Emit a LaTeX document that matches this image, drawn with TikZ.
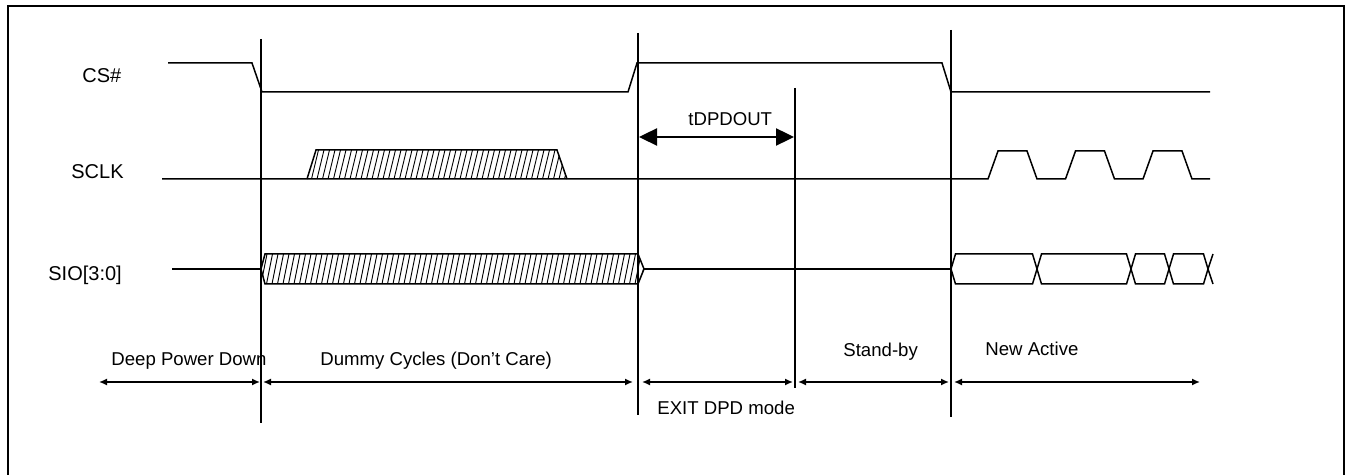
\documentclass[tikz,border=0pt]{standalone}
\usepackage{fontspec}
\setmainfont{Liberation Sans}
\usetikzlibrary{arrows.meta}

\tikzset{
  sig/.style={line width=0.75pt},
  marker/.style={line width=0.75pt},
  hatch/.style={line width=0.45pt},
  siglabel/.style={anchor=base west,inner sep=0pt,font=\fontsize{10}{12}\selectfont},
  phaselabel/.style={anchor=base west,inner sep=0pt,font=\fontsize{9.3}{11}\selectfont},
  span/.style={line width=0.75pt,{Latex[length=4pt,width=3.5pt]}-{Latex[length=4pt,width=3.5pt]}},
  tspan/.style={line width=1.2pt,{Triangle[length=9pt,width=8.5pt]}-{Triangle[length=9pt,width=8.5pt]}},
}

\begin{document}
\begin{tikzpicture}[x=0.5pt,y=-0.5pt]
  \useasboundingbox (0,0) rectangle (1350,475);
  % Frame
  \draw[line width=1pt] (8,480) -- (8,6) -- (1344,6) -- (1344,480);

  % Signal names
  \node[siglabel] (cs) at (82,83) {CS\#};
  \node[siglabel] (sclk) at (71,179) {SCLK};
  \node[siglabel] (sio) at (48,281) {SIO[3:0]};

  % Timing markers
  \draw[marker] (261,39) -- (261,423);
  \draw[marker] (638,33) -- (638,415);
  \draw[marker] (795,88) -- (795,388);
  \draw[marker] (951,30) -- (951,417);

  % CS#
  \draw[sig] (168,63) -- (252,63) -- (262,92) -- (628,92) -- (637,63)
    -- (942,63) -- (951,92) -- (1210,92);

  % SCLK
  \begin{scope}
    \clip (307,179) -- (316,150) -- (557,150) -- (567,179) -- cycle;
    \foreach \x in {295,300.5,...,572} \draw[hatch] (\x,179) -- (\x+7,150);
  \end{scope}
  \draw[sig] (307,179) -- (316,150) -- (557,150) -- (567,179);
  \draw[sig] (162,179)
    \foreach \p in {988,1065.5,1143} {
      -- (\p,179) -- (\p+10,151) -- (\p+39,151) -- (\p+49,179)}
    -- (1210,179);

  % SIO[3:0]
  \draw[sig] (172,269) -- (261,269);
  \begin{scope}
    \clip (261,269) -- (265,254) -- (638,254) -- (644,269) -- (638,284) -- (265,284) -- cycle;
    \foreach \x in {250,255.5,...,650} \draw[hatch] (\x,284) -- (\x+6,254);
  \end{scope}
  \draw[sig] (261,269) -- (265,254) -- (638,254) -- (644,269) -- (638,284) -- (265,284) -- cycle;
  \draw[sig] (644,269) -- (951,269);
  \foreach \l/\r in {951/1037,1037/1131,1131/1169,1169/1208}
    \draw[sig] (\l,269) -- (\l+4.5,254) -- (\r-4.5,254) -- (\r,269)
      -- (\r-4.5,284) -- (\l+4.5,284) -- cycle;
  \draw[sig] (1208,269) -- (1213,254) (1208,269) -- (1213,284);

  % tDPDOUT
  \draw[tspan] (639,137) -- (794,137);
  \node[phaselabel] (tdpd) at (688,126) {tDPDOUT};

  % Phases
  \foreach \a/\b in {99/260,263/633,642/793,798/949,954/1200}
    \draw[span] (\a,382) -- (\b,382);
  \node[phaselabel] (dpd) at (111,366) {Deep Power Down};
  \node[phaselabel] (dummy) at (320,366) {Dummy Cycles (Don’t Care)};
  \node[phaselabel] (stby) at (843,357) {Stand-by};
  \node[phaselabel] (newact) at (985,356) {New Active};
  \node[phaselabel] (exitdpd) at (657,415) {EXIT DPD mode};
\end{tikzpicture}
\end{document}
